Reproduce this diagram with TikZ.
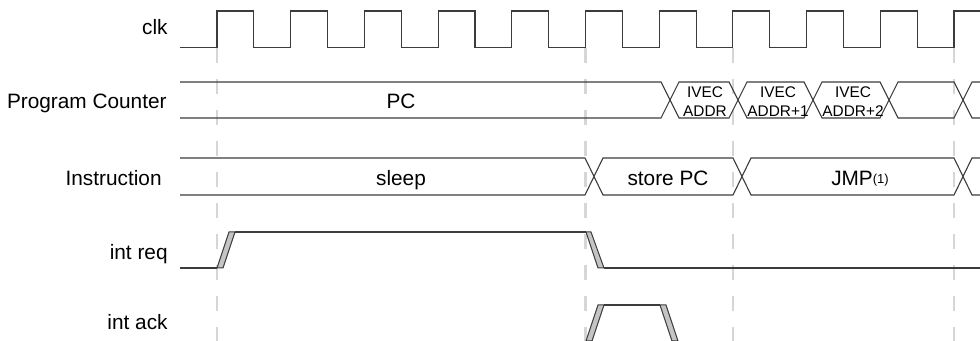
\documentclass[tikz,border=0pt]{standalone}
\usepackage{fontspec}
\setmainfont{Liberation Sans}
\usepackage{tikz}
\usepackage{color}

\definecolor{sig}{HTML}{3C3C3C}
\definecolor{gridc}{HTML}{D6D6D6}
\definecolor{edgefill}{HTML}{C4C4C4}

\begin{document}
\begin{tikzpicture}[x=0.5pt,y=-0.5pt,
  lbl/.style={anchor=base east,inner sep=0pt,font=\fontsize{10.4}{12}\selectfont},
  val/.style={anchor=base,inner sep=0pt,font=\fontsize{10.4}{12}\selectfont},
  small/.style={align=center,inner sep=0pt,font=\fontsize{7.7}{9.5}\selectfont},
  wave/.style={sig,line width=0.55pt},
  slope/.style={draw=sig,fill=edgefill,line width=0.5pt}]
\useasboundingbox (0,0) rectangle (980,341);
% grid
\foreach \x in {217,585.5,732.9,954}
  \draw[gridc,line width=1.25pt,dash pattern=on 7.5pt off 8pt] (\x,48) -- (\x,341);
% labels
\node[lbl] (clk) at (168,35) {clk};
\node[lbl] (pc) at (167,109) {Program Counter};
\node[lbl] (instr) at (162,186) {Instruction};
\node[lbl] (intreq) at (168,260) {int req};
\node[lbl] (intack) at (168,330) {int ack};
% clk
\draw[wave] (180,47.7) \foreach \k in {0,...,9} {-- ({217+73.7*\k},47.7) -- ({217+73.7*\k},11)
  -- ({253.9+73.7*\k},11) -- ({253.9+73.7*\k},47.7)} -- (954,47.7) -- (954,11) -- (980,11);
% program counter
\draw[wave] (180,82) -- (661,82) -- (679,118) -- (729,118) -- (747,82) -- (804,82) -- (822,118)
  -- (880,118) -- (898,82) -- (954,82) -- (972,118) -- (980,118);
\draw[wave] (180,118) -- (661,118) -- (679,82) -- (729,82) -- (747,118) -- (804,118) -- (822,82)
  -- (880,82) -- (898,118) -- (954,118) -- (972,82) -- (980,82);
\node[val] (pcval) at (401,109) {PC};
\node[small] (ivec0) at (705,102) {IVEC\\ADDR};
\node[small] (ivec1) at (778,102) {IVEC\\ADDR+1};
\node[small] (ivec2) at (853,102) {IVEC\\ADDR+2};
% instruction
\draw[wave] (180,158) -- (585,158) -- (603,195) -- (733,195) -- (751,158) -- (954,158) -- (972,195) -- (980,195);
\draw[wave] (180,195) -- (585,195) -- (603,158) -- (733,158) -- (751,195) -- (954,195) -- (972,158) -- (980,158);
\node[val] (sleep) at (401,186) {sleep};
\node[val] (store) at (668,186) {store PC};
\node[val] (jmp) at (860,186) {JMP\raisebox{1.2pt}{\fontsize{6.5}{7}\selectfont(1)}};
% int req
\draw[wave] (180,268) -- (217,268);
\filldraw[slope] (217,268) -- (223,268) -- (235,232) -- (229,232) -- cycle;
\draw[wave] (235,232) -- (586,232);
\filldraw[slope] (586,232) -- (591,232) -- (604,268) -- (598,268) -- cycle;
\draw[wave] (604,268) -- (980,268);
% int ack
\filldraw[slope] (586,341) -- (592,341) -- (604,305) -- (598,305) -- cycle;
\draw[wave] (604,305) -- (660,305);
\filldraw[slope] (660,305) -- (666,305) -- (678,341) -- (672,341) -- cycle;
\end{tikzpicture}
\end{document}
